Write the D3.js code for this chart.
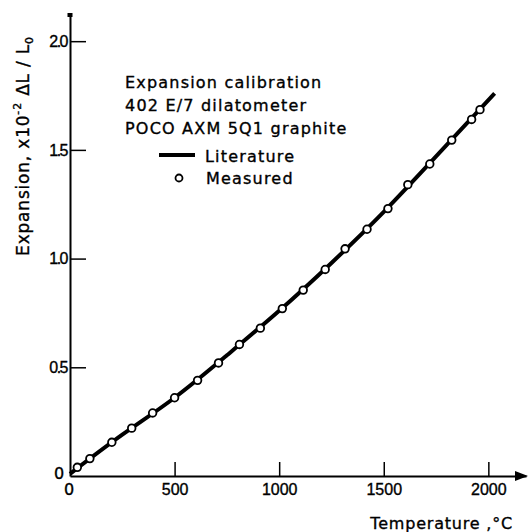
<!DOCTYPE html>
<html>
<head>
<meta charset="utf-8">
<script src="https://cdn.jsdelivr.net/npm/d3@7"></script>
<style>
  body { margin: 0; background: #fff; }
  svg { display: block; font-family: "DejaVu Sans", sans-serif; }
  svg text { stroke: #000; stroke-width: 0.35px; fill: #000; }
  .axis .domain { stroke: #000; stroke-width: 2; }
  .axis .tick line { stroke: #000; stroke-width: 1.5; }
  .axis .tick text { font-size: 16px; fill: #000; }
</style>
</head>
<body>
<div class="chart"></div>
<script>
// measured points (temperature in C, expansion x10^-2)
const measuredT = [35, 95, 200, 295, 395, 500, 610, 710, 810, 910, 1015, 1115, 1220, 1315, 1420, 1520, 1615, 1720, 1825, 1920, 1960];
const measuredE = [0.04, 0.08, 0.155, 0.22, 0.29, 0.36, 0.44, 0.52, 0.605, 0.68, 0.77, 0.855, 0.95, 1.045, 1.135, 1.23, 1.34, 1.435, 1.545, 1.64, 1.685];

// literature curve
const litT = [0, 250, 500, 750, 1000, 1250, 1500, 1750, 2030];
const litE = [0.01, 0.19, 0.36, 0.555, 0.76, 0.98, 1.215, 1.47, 1.76];

const xTicks = [500, 1000, 1500, 2000];
const yTicks = [0.5, 1.0, 1.5, 2.0];
const yTickLabels = ["0.5", "1.0", "1.5", "2.0"];

const legendLines = ["Expansion calibration", "402 E/7 dilatometer", "POCO AXM 5Q1 graphite"];

const width = 528, height = 532;

const svg = d3.select('.chart').append('svg')
    .attr('width', width)
    .attr('height', height);

const xScale = d3.scaleLinear().domain([0, 2180]).range([70, 526]);
const yScale = d3.scaleLinear().domain([0, 2.125]).range([476, 14]);

// axes
const xAxis = d3.axisBottom(xScale)
    .tickValues(xTicks)
    .tickSize(-14)
    .tickSizeOuter(0)
    .tickPadding(6)
    .tickFormat(d3.format('d'));

const yAxis = d3.axisLeft(yScale)
    .tickValues(yTicks)
    .tickSize(-16)
    .tickSizeOuter(0)
    .tickPadding(3)
    .tickFormat((d, i) => yTickLabels[i]);

const gx = svg.append('g')
    .attr('class', 'axis x-axis')
    .attr('transform', `translate(0, ${yScale(0)})`)
    .call(xAxis);
gx.selectAll('.tick text').attr('y', 8).attr('dy', '0.71em');

const gy = svg.append('g')
    .attr('class', 'axis y-axis')
    .attr('transform', `translate(${xScale(0)}, 0)`)
    .call(yAxis);
gy.selectAll('.tick text').attr('letter-spacing', '-1.5');

// arrow at end of x axis
const xEnd = xScale.range()[1];
svg.append('path')
    .attr('d', `M${xEnd + 2},${yScale(0)} L${xEnd - 11},${yScale(0) - 5} L${xEnd - 11},${yScale(0) + 5} Z`)
    .attr('fill', '#000');

// cap at top of y axis
svg.append('rect')
    .attr('x', xScale(0) - 2.5)
    .attr('y', yScale.range()[1] - 1)
    .attr('width', 5)
    .attr('height', 4)
    .attr('fill', '#000');

// zero labels
svg.append('text')
    .attr('x', xScale(0) - 11)
    .attr('y', yScale(0) + 3)
    .attr('text-anchor', 'middle')
    .attr('font-size', 16)
    .text('0');
svg.append('text')
    .attr('x', xScale(0) - 1)
    .attr('y', yScale(0) + 19)
    .attr('text-anchor', 'middle')
    .attr('font-size', 16)
    .text('0');

// literature line
const litData = litT.map((t, i) => ({t: t, e: litE[i]}));
const line = d3.line()
    .x(d => xScale(d.t))
    .y(d => yScale(d.e))
    .curve(d3.curveNatural);

svg.append('path')
    .datum(litData)
    .attr('fill', 'none')
    .attr('stroke', '#000')
    .attr('stroke-width', 4)
    .attr('d', line);

// measured circles
const measData = measuredT.map((t, i) => ({t: t, e: measuredE[i]}));
svg.selectAll('circle.meas')
    .data(measData)
    .enter()
    .append('circle')
    .attr('class', 'meas')
    .attr('cx', d => xScale(d.t))
    .attr('cy', d => yScale(d.e))
    .attr('r', 3.8)
    .attr('fill', '#fff')
    .attr('stroke', '#000')
    .attr('stroke-width', 1.8);

// legend text
svg.selectAll('text.legend-title')
    .data(legendLines)
    .enter()
    .append('text')
    .attr('class', 'legend-title')
    .attr('x', 125)
    .attr('y', (d, i) => 88 + i * 23)
    .attr('font-size', 16)
    .attr('letter-spacing', 1.2)
    .text(d => d);

svg.append('line')
    .attr('x1', 159).attr('x2', 195)
    .attr('y1', 155).attr('y2', 155)
    .attr('stroke', '#000')
    .attr('stroke-width', 4);
svg.append('text')
    .attr('x', 205).attr('y', 162)
    .attr('font-size', 16)
    .attr('letter-spacing', 1.2)
    .text('Literature');

svg.append('circle')
    .attr('cx', 179).attr('cy', 178)
    .attr('r', 3.5)
    .attr('fill', '#fff')
    .attr('stroke', '#000')
    .attr('stroke-width', 1.8);
svg.append('text')
    .attr('x', 206).attr('y', 184)
    .attr('font-size', 16)
    .attr('letter-spacing', 1.2)
    .text('Measured');

// axis titles
const yTitle = svg.append('text')
    .attr('transform', 'translate(29,146) rotate(-90)')
    .attr('text-anchor', 'middle')
    .attr('font-size', 17)
    .attr('letter-spacing', 0.8);
yTitle.append('tspan').text('Expansion, x10');
yTitle.append('tspan').attr('font-size', 11).attr('dy', -8).text('-2');
yTitle.append('tspan').attr('dy', 8).text(' \u0394L / L');
yTitle.append('tspan').attr('font-size', 11).attr('dy', 4).text('0');

svg.append('text')
    .attr('x', 513)
    .attr('y', 529)
    .attr('text-anchor', 'end')
    .attr('font-size', 16)
    .attr('letter-spacing', 0.8)
    .text('Temperature ,\u00B0C');
</script>
</body>
</html>
